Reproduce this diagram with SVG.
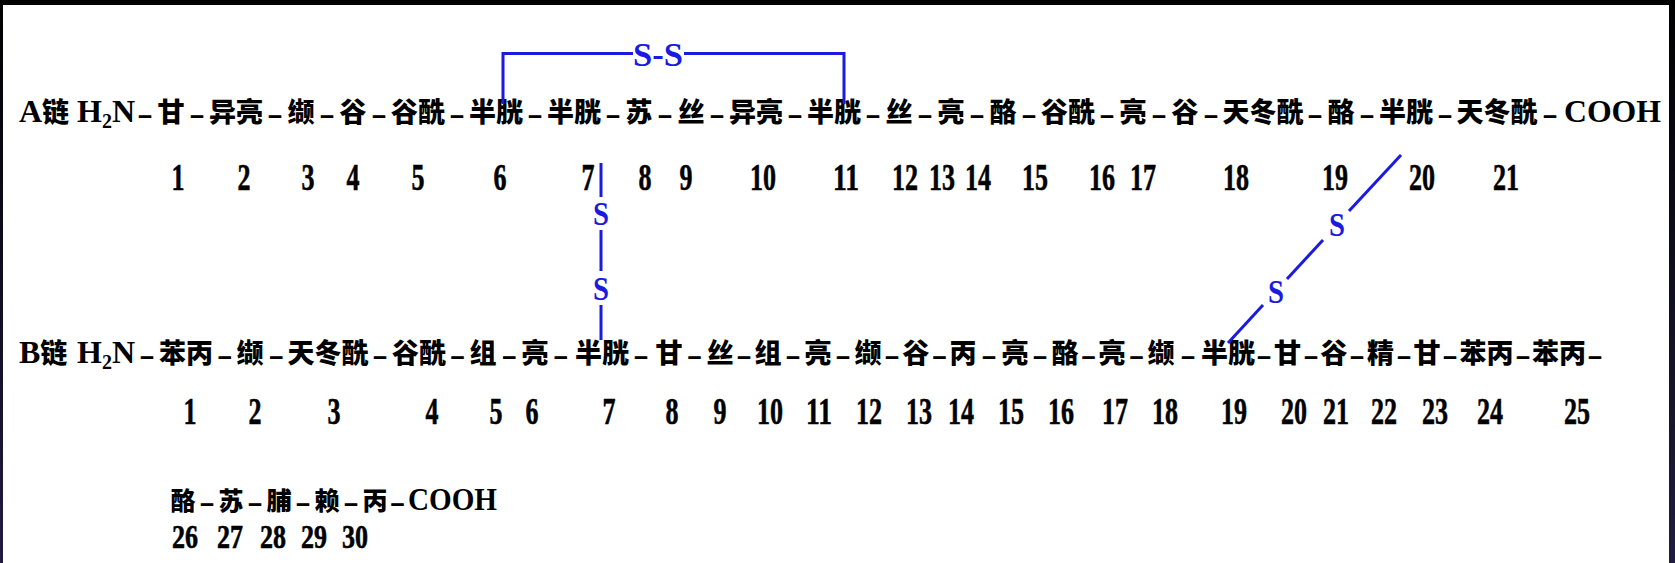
<svg xmlns="http://www.w3.org/2000/svg" width="1675" height="563" viewBox="0 0 1675 563">
<defs>
<linearGradient id="frame" x1="0" y1="0" x2="0" y2="1">
<stop offset="0" stop-color="#000000"/>
<stop offset="1" stop-color="#1f1c3e"/>
</linearGradient>
<style>
.aa{font-family:"Noto Sans CJK SC","Noto Sans CJK JP",sans-serif;font-weight:900;font-size:27px;text-anchor:middle;fill:#000}
.aac{font-family:"Noto Sans CJK SC","Noto Sans CJK JP",sans-serif;font-weight:900;font-size:25px;text-anchor:middle;fill:#000}
.lbl{font-family:"Liberation Serif","Noto Sans CJK SC",serif;font-weight:bold;font-size:32px;fill:#000}
.cjk{font-family:"Noto Sans CJK SC",sans-serif;font-weight:900;font-size:27px}
.num{font-family:"Liberation Serif",serif;font-weight:bold;font-size:38px;text-anchor:middle;fill:#000;stroke:#000;stroke-width:0.6}
.numc{font-family:"Liberation Serif",serif;font-weight:bold;font-size:34px;text-anchor:middle;fill:#000;stroke:#000;stroke-width:0.6}
.dash{font-family:"Liberation Serif",serif;font-weight:bold;font-size:22px;text-anchor:middle;fill:#000;stroke:#000;stroke-width:1.2}
.ss{font-family:"Liberation Serif",serif;font-weight:bold;font-size:34px;text-anchor:middle;fill:#1a1ae0}
.bond{stroke:#1a1ae0;stroke-width:3;fill:none}
</style>
</defs>
<rect x="0" y="0" width="1675" height="563" fill="url(#frame)"/>
<rect x="3" y="5" width="1666" height="558" fill="#ffffff"/>

<!-- Chain A -->
<g id="chainA">
<text class="lbl" x="19" y="122">A<tspan class="cjk">链</tspan></text>
<text class="lbl" x="77" y="122">H<tspan font-size="20" dy="6">2</tspan><tspan dy="-6">N</tspan></text>
<g id="A1"><text class="aa" x="171" y="122">甘</text><text class="num" x="178" y="190" textLength="13" lengthAdjust="spacingAndGlyphs">1</text></g>
<g id="A2"><text class="aa" x="236" y="122">异亮</text><text class="num" x="244" y="190" textLength="13" lengthAdjust="spacingAndGlyphs">2</text></g>
<g id="A3"><text class="aa" x="301" y="122">缬</text><text class="num" x="308" y="190" textLength="13" lengthAdjust="spacingAndGlyphs">3</text></g>
<g id="A4"><text class="aa" x="353" y="122">谷</text><text class="num" x="353" y="190" textLength="13" lengthAdjust="spacingAndGlyphs">4</text></g>
<g id="A5"><text class="aa" x="418" y="122">谷酰</text><text class="num" x="418" y="190" textLength="13" lengthAdjust="spacingAndGlyphs">5</text></g>
<g id="A6"><text class="aa" x="496" y="122">半胱</text><text class="num" x="500" y="190" textLength="13" lengthAdjust="spacingAndGlyphs">6</text></g>
<g id="A7"><text class="aa" x="574" y="122">半胱</text><text class="num" x="588" y="190" textLength="13" lengthAdjust="spacingAndGlyphs">7</text></g>
<g id="A8"><text class="aa" x="639" y="122">苏</text><text class="num" x="645" y="190" textLength="13" lengthAdjust="spacingAndGlyphs">8</text></g>
<g id="A9"><text class="aa" x="691" y="122">丝</text><text class="num" x="686" y="190" textLength="13" lengthAdjust="spacingAndGlyphs">9</text></g>
<g id="A10"><text class="aa" x="756" y="122">异亮</text><text class="num" x="763" y="190" textLength="26" lengthAdjust="spacingAndGlyphs">10</text></g>
<g id="A11"><text class="aa" x="834" y="122">半胱</text><text class="num" x="846" y="190" textLength="26" lengthAdjust="spacingAndGlyphs">11</text></g>
<g id="A12"><text class="aa" x="899" y="122">丝</text><text class="num" x="905" y="190" textLength="26" lengthAdjust="spacingAndGlyphs">12</text></g>
<g id="A13"><text class="aa" x="951" y="122">亮</text><text class="num" x="942" y="190" textLength="26" lengthAdjust="spacingAndGlyphs">13</text></g>
<g id="A14"><text class="aa" x="1003" y="122">酪</text><text class="num" x="978" y="190" textLength="26" lengthAdjust="spacingAndGlyphs">14</text></g>
<g id="A15"><text class="aa" x="1068" y="122">谷酰</text><text class="num" x="1035" y="190" textLength="26" lengthAdjust="spacingAndGlyphs">15</text></g>
<g id="A16"><text class="aa" x="1133" y="122">亮</text><text class="num" x="1102" y="190" textLength="26" lengthAdjust="spacingAndGlyphs">16</text></g>
<g id="A17"><text class="aa" x="1185" y="122">谷</text><text class="num" x="1143" y="190" textLength="26" lengthAdjust="spacingAndGlyphs">17</text></g>
<g id="A18"><text class="aa" x="1263" y="122">天冬酰</text><text class="num" x="1236" y="190" textLength="26" lengthAdjust="spacingAndGlyphs">18</text></g>
<g id="A19"><text class="aa" x="1341" y="122">酪</text><text class="num" x="1335" y="190" textLength="26" lengthAdjust="spacingAndGlyphs">19</text></g>
<g id="A20"><text class="aa" x="1406" y="122">半胱</text><text class="num" x="1422" y="190" textLength="26" lengthAdjust="spacingAndGlyphs">20</text></g>
<g id="A21"><text class="aa" x="1497" y="122">天冬酰</text><text class="num" x="1506" y="190" textLength="26" lengthAdjust="spacingAndGlyphs">21</text></g>
<text class="lbl" x="1564" y="122" textLength="97" lengthAdjust="spacingAndGlyphs">COOH</text>
<g id="A-dashes">
<text class="dash" x="145" y="122">–</text><text class="dash" x="197" y="122">–</text><text class="dash" x="275" y="122">–</text><text class="dash" x="327" y="122">–</text><text class="dash" x="379" y="122">–</text><text class="dash" x="457" y="122">–</text><text class="dash" x="535" y="122">–</text><text class="dash" x="613" y="122">–</text><text class="dash" x="665" y="122">–</text><text class="dash" x="717" y="122">–</text><text class="dash" x="795" y="122">–</text><text class="dash" x="873" y="122">–</text><text class="dash" x="925" y="122">–</text><text class="dash" x="977" y="122">–</text><text class="dash" x="1029" y="122">–</text><text class="dash" x="1107" y="122">–</text><text class="dash" x="1159" y="122">–</text><text class="dash" x="1211" y="122">–</text><text class="dash" x="1315" y="122">–</text><text class="dash" x="1367" y="122">–</text><text class="dash" x="1445" y="122">–</text><text class="dash" x="1550" y="122">–</text>
</g>
</g>

<!-- Chain B -->
<g id="chainB">
<text class="lbl" x="19" y="363">B<tspan class="cjk">链</tspan></text>
<text class="lbl" x="77" y="363">H<tspan font-size="20" dy="6">2</tspan><tspan dy="-6">N</tspan></text>
<g id="B1"><text class="aa" x="186" y="363">苯丙</text><text class="num" x="190" y="424" textLength="13" lengthAdjust="spacingAndGlyphs">1</text></g>
<g id="B2"><text class="aa" x="250" y="363">缬</text><text class="num" x="255" y="424" textLength="13" lengthAdjust="spacingAndGlyphs">2</text></g>
<g id="B3"><text class="aa" x="328" y="363">天冬酰</text><text class="num" x="334" y="424" textLength="13" lengthAdjust="spacingAndGlyphs">3</text></g>
<g id="B4"><text class="aa" x="419" y="363">谷酰</text><text class="num" x="432" y="424" textLength="13" lengthAdjust="spacingAndGlyphs">4</text></g>
<g id="B5"><text class="aa" x="483" y="363">组</text><text class="num" x="496" y="424" textLength="13" lengthAdjust="spacingAndGlyphs">5</text></g>
<g id="B6"><text class="aa" x="535" y="363">亮</text><text class="num" x="532" y="424" textLength="13" lengthAdjust="spacingAndGlyphs">6</text></g>
<g id="B7"><text class="aa" x="602" y="363">半胱</text><text class="num" x="609" y="424" textLength="13" lengthAdjust="spacingAndGlyphs">7</text></g>
<g id="B8"><text class="aa" x="669" y="363">甘</text><text class="num" x="672" y="424" textLength="13" lengthAdjust="spacingAndGlyphs">8</text></g>
<g id="B9"><text class="aa" x="720" y="363">丝</text><text class="num" x="720" y="424" textLength="13" lengthAdjust="spacingAndGlyphs">9</text></g>
<g id="B10"><text class="aa" x="768" y="363">组</text><text class="num" x="770" y="424" textLength="26" lengthAdjust="spacingAndGlyphs">10</text></g>
<g id="B11"><text class="aa" x="818" y="363">亮</text><text class="num" x="819" y="424" textLength="26" lengthAdjust="spacingAndGlyphs">11</text></g>
<g id="B12"><text class="aa" x="868" y="363">缬</text><text class="num" x="869" y="424" textLength="26" lengthAdjust="spacingAndGlyphs">12</text></g>
<g id="B13"><text class="aa" x="916" y="363">谷</text><text class="num" x="919" y="424" textLength="26" lengthAdjust="spacingAndGlyphs">13</text></g>
<g id="B14"><text class="aa" x="963" y="363">丙</text><text class="num" x="961" y="424" textLength="26" lengthAdjust="spacingAndGlyphs">14</text></g>
<g id="B15"><text class="aa" x="1015" y="363">亮</text><text class="num" x="1011" y="424" textLength="26" lengthAdjust="spacingAndGlyphs">15</text></g>
<g id="B16"><text class="aa" x="1065" y="363">酪</text><text class="num" x="1061" y="424" textLength="26" lengthAdjust="spacingAndGlyphs">16</text></g>
<g id="B17"><text class="aa" x="1112" y="363">亮</text><text class="num" x="1115" y="424" textLength="26" lengthAdjust="spacingAndGlyphs">17</text></g>
<g id="B18"><text class="aa" x="1161" y="363">缬</text><text class="num" x="1165" y="424" textLength="26" lengthAdjust="spacingAndGlyphs">18</text></g>
<g id="B19"><text class="aa" x="1228" y="363">半胱</text><text class="num" x="1234" y="424" textLength="26" lengthAdjust="spacingAndGlyphs">19</text></g>
<g id="B20"><text class="aa" x="1287.5" y="363">甘</text><text class="num" x="1294" y="424" textLength="26" lengthAdjust="spacingAndGlyphs">20</text></g>
<g id="B21"><text class="aa" x="1334" y="363">谷</text><text class="num" x="1336" y="424" textLength="26" lengthAdjust="spacingAndGlyphs">21</text></g>
<g id="B22"><text class="aa" x="1380.5" y="363">精</text><text class="num" x="1384" y="424" textLength="26" lengthAdjust="spacingAndGlyphs">22</text></g>
<g id="B23"><text class="aa" x="1427" y="363">甘</text><text class="num" x="1435" y="424" textLength="26" lengthAdjust="spacingAndGlyphs">23</text></g>
<g id="B24"><text class="aa" x="1486.5" y="363">苯丙</text><text class="num" x="1490" y="424" textLength="26" lengthAdjust="spacingAndGlyphs">24</text></g>
<g id="B25"><text class="aa" x="1559" y="363">苯丙</text><text class="num" x="1577" y="424" textLength="26" lengthAdjust="spacingAndGlyphs">25</text></g>
<g id="B-dashes">
<text class="dash" x="147" y="363">–</text><text class="dash" x="224.7" y="363">–</text><text class="dash" x="276.2" y="363">–</text><text class="dash" x="380" y="363">–</text><text class="dash" x="457.6" y="363">–</text><text class="dash" x="509.2" y="363">–</text><text class="dash" x="560.8" y="363">–</text><text class="dash" x="641" y="363">–</text><text class="dash" x="694.5" y="363">–</text><text class="dash" x="744" y="363">–</text><text class="dash" x="793" y="363">–</text><text class="dash" x="843" y="363">–</text><text class="dash" x="892" y="363">–</text><text class="dash" x="939.5" y="363">–</text><text class="dash" x="989" y="363">–</text><text class="dash" x="1040" y="363">–</text><text class="dash" x="1088.5" y="363">–</text><text class="dash" x="1136.5" y="363">–</text><text class="dash" x="1188" y="363">–</text><text class="dash" x="1264" y="363">–</text><text class="dash" x="1311" y="363">–</text><text class="dash" x="1357" y="363">–</text><text class="dash" x="1404" y="363">–</text><text class="dash" x="1450" y="363">–</text><text class="dash" x="1523" y="363">–</text><text class="dash" x="1595" y="363">–</text>
</g>
</g>

<!-- Chain B continued -->
<g id="chainB2">
<g id="B26"><text class="aac" x="183" y="510">酪</text><text class="numc" x="185" y="548" textLength="26" lengthAdjust="spacingAndGlyphs">26</text></g>
<g id="B27"><text class="aac" x="231" y="510">苏</text><text class="numc" x="230" y="548" textLength="26" lengthAdjust="spacingAndGlyphs">27</text></g>
<g id="B28"><text class="aac" x="279" y="510">脯</text><text class="numc" x="273" y="548" textLength="26" lengthAdjust="spacingAndGlyphs">28</text></g>
<g id="B29"><text class="aac" x="327" y="510">赖</text><text class="numc" x="314" y="548" textLength="26" lengthAdjust="spacingAndGlyphs">29</text></g>
<g id="B30"><text class="aac" x="375" y="510">丙</text><text class="numc" x="355" y="548" textLength="26" lengthAdjust="spacingAndGlyphs">30</text></g>
<text class="lbl" x="408" y="510" textLength="89" lengthAdjust="spacingAndGlyphs">COOH</text>
<g id="B2-dashes">
<text class="dash" x="207" y="510">–</text><text class="dash" x="255" y="510">–</text><text class="dash" x="303" y="510">–</text><text class="dash" x="351" y="510">–</text><text class="dash" x="397.5" y="510">–</text>
</g>
</g>

<!-- Disulfide connectors -->
<g id="connectors">
<g id="ss-A6-A11">
<polyline class="bond" points="503,104 503,53.5 633,53.5"/>
<polyline class="bond" points="684,53.5 844,53.5 844,104"/>
<text class="ss" x="658" y="66" textLength="50" lengthAdjust="spacingAndGlyphs">S-S</text>
</g>
<g id="ss-A7-B7">
<line class="bond" x1="601" y1="163" x2="601" y2="197"/>
<line class="bond" x1="601" y1="230" x2="601" y2="271"/>
<line class="bond" x1="601" y1="305" x2="601" y2="340"/>
<text class="ss" x="601" y="225" textLength="16" lengthAdjust="spacingAndGlyphs">S</text>
<text class="ss" x="601" y="300" textLength="16" lengthAdjust="spacingAndGlyphs">S</text>
</g>
<g id="ss-A20-B19">
<line class="bond" x1="1401" y1="155" x2="1349" y2="211"/>
<line class="bond" x1="1323" y1="240" x2="1287" y2="279"/>
<line class="bond" x1="1263" y1="305" x2="1228" y2="343"/>
<text class="ss" x="1337" y="236" textLength="16" lengthAdjust="spacingAndGlyphs">S</text>
<text class="ss" x="1276" y="303" textLength="16" lengthAdjust="spacingAndGlyphs">S</text>
</g>
</g>
</svg>
